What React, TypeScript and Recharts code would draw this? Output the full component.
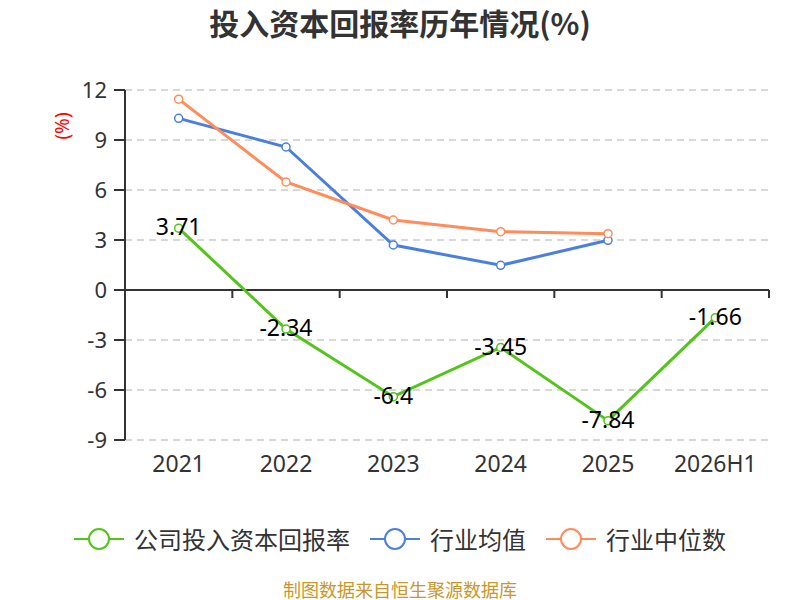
import {
  LineChart,
  Line,
  XAxis,
  YAxis,
  CartesianGrid,
  ReferenceLine,
  LabelList,
} from "recharts";

// 投入资本回报率历年情况(%)
const years = ["2021", "2022", "2023", "2024", "2025", "2026H1"];
const companyRoic = [3.71, -2.34, -6.4, -3.45, -7.84, -1.66];
const industryAvg = [10.3, 8.58, 2.7, 1.48, 2.98, null];
const industryMedian = [11.45, 6.48, 4.2, 3.5, 3.38, null];
const yTicks = [-9, -6, -3, 0, 3, 6, 9, 12];

const seriesNames = ["公司投入资本回报率", "行业均值", "行业中位数"];
const seriesColors = ["#52c41a", "#4a7fe0", "#ff8c5a"];

const data = years.map((year, i) => ({
  year,
  company: companyRoic[i],
  avg: industryAvg[i],
  median: industryMedian[i],
}));

const FONT = '"Noto Sans", "Noto Sans CJK SC", sans-serif';
const CJK = '"Noto Sans CJK SC", sans-serif';

// x axis sits on the zero line, with tick marks between the categories
const ZeroAxis = (props: any) => {
  const { x1, y1, x2 } = props;
  const step = (x2 - x1) / years.length;
  return (
    <g>
      <line x1={x1} y1={y1} x2={x2} y2={y1} stroke="#333" strokeWidth={2} />
      {years.map((_, i) => (
        <line
          key={i}
          x1={x1 + step * (i + 1)}
          x2={x1 + step * (i + 1)}
          y1={y1}
          y2={y1 + 8}
          stroke="#333"
          strokeWidth={2}
        />
      ))}
    </g>
  );
};

const ValueLabel = (props: any) => {
  const { x, y, value } = props;
  return (
    <text
      x={x}
      y={y - 2}
      textAnchor="middle"
      dominantBaseline="central"
      fontSize={23}
      fontFamily={FONT}
      fill="#000"
    >
      {value}
    </text>
  );
};

const UnitLabel = (props: any) => {
  const { viewBox } = props;
  const x = viewBox.x + 62;
  const y = viewBox.y + 36;
  return (
    <text
      x={x}
      y={y}
      transform={`rotate(-90 ${x} ${y})`}
      textAnchor="middle"
      dominantBaseline="central"
      fontSize={19}
      fontFamily={FONT}
      fill="#ff0000"
    >
      (%)
    </text>
  );
};

const LegendIcon = ({ color }: { color: string }) => (
  <svg width={50} height={24} style={{ display: "block" }}>
    <line x1={0} y1={12} x2={50} y2={12} stroke={color} strokeWidth={2} />
    <circle cx={25} cy={12} r={10} fill="#fff" stroke={color} strokeWidth={2} />
  </svg>
);

const App = () => {
  return (
    <div
      style={{
        position: "absolute",
        left: 0,
        top: 0,
        width: 800,
        height: 600,
        background: "#fff",
        fontFamily: CJK,
        overflow: "hidden",
      }}
    >
      <div
        style={{
          position: "absolute",
          top: 4,
          width: 800,
          textAlign: "center",
          fontSize: 30,
          fontWeight: "bold",
          color: "#333",
          lineHeight: "36px",
        }}
      >
        投入资本回报率历年情况(%)
      </div>
      <LineChart
        width={800}
        height={600}
        data={data}
        margin={{ top: 90, right: 31, bottom: 120, left: 0 }}
      >
        <CartesianGrid
          vertical={false}
          stroke="#cccccc"
          strokeDasharray="7 5"
          strokeWidth={1.5}
        />
        <XAxis
          dataKey="year"
          scale="band"
          axisLine={false}
          tickLine={false}
          tickMargin={10}
          height={40}
          interval={0}
          tick={{ fontSize: 23, fill: "#333", fontFamily: FONT }}
        />
        <YAxis
          width={125}
          domain={[-9, 12]}
          ticks={yTicks}
          interval={0}
          tickSize={11}
          tickMargin={7}
          axisLine={{ stroke: "#333", strokeWidth: 2 }}
          tickLine={{ stroke: "#333", strokeWidth: 2 }}
          tick={{ fontSize: 22, fill: "#333", fontFamily: FONT }}
          label={<UnitLabel />}
        />
        <ReferenceLine y={0} shape={<ZeroAxis />} />
        <Line
          dataKey="avg"
          name={seriesNames[1]}
          stroke={seriesColors[1]}
          strokeWidth={3}
          dot={{ r: 4, fill: "#fff", stroke: seriesColors[1], strokeWidth: 1.5 }}
          isAnimationActive={false}
        />
        <Line
          dataKey="median"
          name={seriesNames[2]}
          stroke={seriesColors[2]}
          strokeWidth={3}
          dot={{ r: 4, fill: "#fff", stroke: seriesColors[2], strokeWidth: 1.5 }}
          isAnimationActive={false}
        />
        <Line
          dataKey="company"
          name={seriesNames[0]}
          stroke={seriesColors[0]}
          strokeWidth={3}
          dot={{ r: 4, fill: "#fff", stroke: seriesColors[0], strokeWidth: 1.5 }}
          isAnimationActive={false}
        >
          <LabelList dataKey="company" content={<ValueLabel />} />
        </Line>
      </LineChart>
      <div
        style={{
          position: "absolute",
          top: 521,
          width: 800,
          display: "flex",
          justifyContent: "center",
          alignItems: "center",
          gap: 20,
          fontSize: 24,
          color: "#333",
        }}
      >
        {seriesNames.map((name, i) => (
          <div key={name} style={{ display: "flex", alignItems: "center", gap: 10 }}>
            <LegendIcon color={seriesColors[i]} />
            <span>{name}</span>
          </div>
        ))}
      </div>
      <div
        style={{
          position: "absolute",
          top: 580,
          width: 800,
          textAlign: "center",
          fontSize: 18,
          color: "#c9962b",
          lineHeight: "19px",
        }}
      >
        制图数据来自恒生聚源数据库
      </div>
    </div>
  );
};

export default App;
